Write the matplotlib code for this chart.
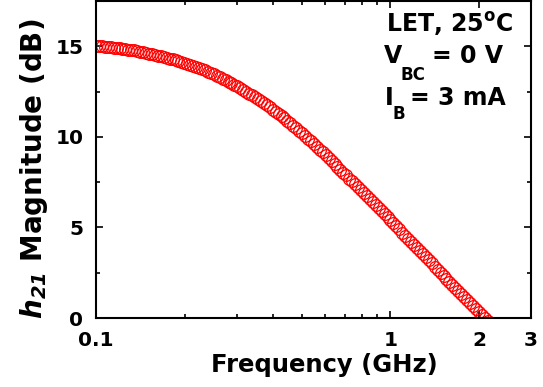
import matplotlib
matplotlib.use("Agg")
import matplotlib.pyplot as plt
from matplotlib.ticker import FixedLocator, NullFormatter

# h21 magnitude vs frequency (0.01-decade steps)
freq_ghz = [
    0.1000, 0.1023, 0.1047, 0.1072, 0.1096, 0.1122, 0.1148, 0.1175, 0.1202, 0.1230,
    0.1259, 0.1288, 0.1318, 0.1349, 0.1380, 0.1413, 0.1445, 0.1479, 0.1514, 0.1549,
    0.1585, 0.1622, 0.1660, 0.1698, 0.1738, 0.1778, 0.1820, 0.1862, 0.1905, 0.1950,
    0.1995, 0.2042, 0.2089, 0.2138, 0.2188, 0.2239, 0.2291, 0.2344, 0.2399, 0.2455,
    0.2512, 0.2570, 0.2630, 0.2692, 0.2754, 0.2818, 0.2884, 0.2951, 0.3020, 0.3090,
    0.3162, 0.3236, 0.3311, 0.3388, 0.3467, 0.3548, 0.3631, 0.3715, 0.3802, 0.3890,
    0.3981, 0.4074, 0.4169, 0.4266, 0.4365, 0.4467, 0.4571, 0.4677, 0.4786, 0.4898,
    0.5012, 0.5129, 0.5248, 0.5370, 0.5495, 0.5623, 0.5754, 0.5888, 0.6026, 0.6166,
    0.6310, 0.6457, 0.6607, 0.6761, 0.6918, 0.7079, 0.7244, 0.7413, 0.7586, 0.7762,
    0.7943, 0.8128, 0.8318, 0.8511, 0.8710, 0.8913, 0.9120, 0.9333, 0.9550, 0.9772,
    1.000, 1.023, 1.047, 1.072, 1.096, 1.122, 1.148, 1.175, 1.202, 1.230,
    1.259, 1.288, 1.318, 1.349, 1.380, 1.413, 1.445, 1.479, 1.514, 1.549,
    1.585, 1.622, 1.660, 1.698, 1.738, 1.778, 1.820, 1.862, 1.905, 1.950,
    1.995, 2.042, 2.089, 2.138,
]
h21_db = [
    15.02, 15.01, 15.00, 14.98, 14.97, 14.95, 14.93, 14.91, 14.89, 14.87,
    14.85, 14.82, 14.79, 14.77, 14.74, 14.71, 14.67, 14.64, 14.60, 14.57,
    14.53, 14.49, 14.45, 14.41, 14.37, 14.32, 14.28, 14.23, 14.18, 14.13,
    14.08, 14.03, 13.97, 13.92, 13.86, 13.80, 13.73, 13.67, 13.60, 13.53,
    13.45, 13.38, 13.30, 13.22, 13.14, 13.05, 12.96, 12.87, 12.78, 12.69,
    12.59, 12.49, 12.39, 12.29, 12.18, 12.08, 11.97, 11.86, 11.74, 11.63,
    11.51, 11.39, 11.27, 11.14, 11.02, 10.89, 10.75, 10.62, 10.48, 10.34,
    10.19, 10.04, 9.90, 9.75, 9.59, 9.44, 9.29, 9.14, 8.98, 8.82,
    8.67, 8.51, 8.35, 8.19, 8.03, 7.87, 7.70, 7.54, 7.38, 7.21,
    7.05, 6.88, 6.72, 6.56, 6.39, 6.23, 6.06, 5.90, 5.74, 5.57,
    5.41, 5.24, 5.07, 4.89, 4.72, 4.55, 4.38, 4.21, 4.04, 3.87,
    3.70, 3.53, 3.36, 3.18, 3.01, 2.84, 2.67, 2.50, 2.33, 2.16,
    1.99, 1.83, 1.66, 1.50, 1.33, 1.17, 1.00, 0.84, 0.67, 0.51,
    0.34, 0.18, 0.01, -0.15,
]

x_ticks = [0.1, 1, 2, 3]
x_ticklabels = ["0.1", "1", "2", "3"]
x_minor = [0.2, 0.3, 0.4, 0.5, 0.6, 0.7, 0.8, 0.9]
y_ticks = [0, 5, 10, 15]
y_minor = [2.5, 7.5, 12.5]

plt.rcParams['font.family'] = ['DejaVu Sans']
plt.rcParams['font.weight'] = 'bold'
plt.rcParams['mathtext.fontset'] = 'dejavusans'

W, H = 543, 387
fig = plt.figure(figsize=(W / 100, H / 100), dpi=100)
ax = fig.add_axes([96 / W, 1 - 318 / H, 435 / W, 317 / H])

ax.plot(freq_ghz, h21_db, 'o', mfc='none', mec='#ff0000', ms=8.4, mew=0.9)

ax.set_xscale('log')
ax.set_xlim(0.1, 3)
ax.set_ylim(0, 17.5)

ax.xaxis.set_major_locator(FixedLocator(x_ticks))
ax.set_xticklabels(x_ticklabels)
ax.xaxis.set_minor_locator(FixedLocator(x_minor))
ax.xaxis.set_minor_formatter(NullFormatter())
ax.yaxis.set_major_locator(FixedLocator(y_ticks))
ax.yaxis.set_minor_locator(FixedLocator(y_minor))

for s in ax.spines.values():
    s.set_linewidth(1.5)
ax.tick_params(which='both', direction='in', top=True, right=True, width=1.2)
ax.tick_params(which='major', length=5, pad=9, labelsize=14.5)
ax.tick_params(which='minor', length=3)

ax.set_xlabel("Frequency (GHz)", fontsize=17.5, fontweight='bold')
ax.xaxis.set_label_coords(0.524, -0.11)
ax.set_ylabel(r"$\mathbfit{h_{21}}$ Magnitude (dB)", fontsize=20, fontweight='bold')
ax.yaxis.set_label_coords(-0.105, 0.472)


def label(px, py, s, size=17):
    # place text by its baseline, in picture pixels from the top-left
    fig.text(px / W, 1 - py / H, s, fontsize=size, fontweight='bold', va='baseline')


# condition annotations, top right
label(386, 31.7, r"LET, 25$^{\mathbf{o}}$C")
label(384, 63.3, "V")
label(401, 80, "BC", size=12)
label(432, 63.3, "= 0 V")
label(385, 105, "I")
label(393, 119, "B", size=12)
label(410, 105, "= 3 mA")

fig.savefig("out.png", dpi=100)
